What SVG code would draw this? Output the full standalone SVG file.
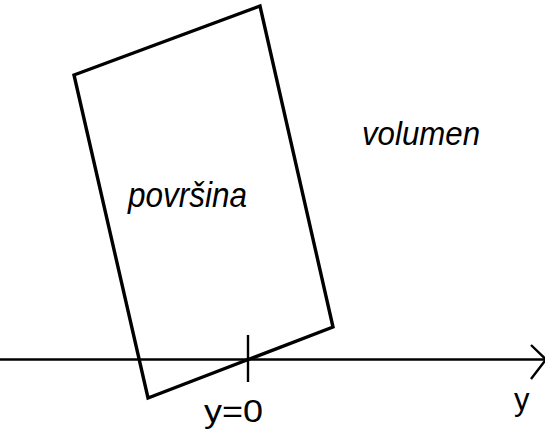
<svg xmlns="http://www.w3.org/2000/svg" width="545" height="434" viewBox="0 0 545 434">
<style>
.t{font-family:"Liberation Sans",Arial,sans-serif;fill:#000}
.i{font-style:italic}
</style>
<rect width="545" height="434" fill="#fff"/>
<g id="plate">
<polygon points="74,75 260,6 333,327 148,398" fill="none" stroke="#000" stroke-width="3.4" stroke-linejoin="miter"/>
</g>
<g id="axis" fill="none" stroke="#000" stroke-width="2.4">
<line x1="0" y1="359.5" x2="545" y2="359.5"/>
<polyline points="531,345 546,359.5 531,379"/>
<line x1="248" y1="335" x2="248" y2="382"/>
</g>
<g id="labels">
<text class="t i" x="128" y="207" font-size="35" textLength="119" lengthAdjust="spacingAndGlyphs">površina</text>
<text class="t i" x="362" y="145" font-size="34" textLength="118" lengthAdjust="spacingAndGlyphs">volumen</text>
<text class="t" x="204" y="422" font-size="31" textLength="59" lengthAdjust="spacingAndGlyphs">y=0</text>
<text class="t" x="514" y="410" font-size="31">y</text>
</g>
</svg>
